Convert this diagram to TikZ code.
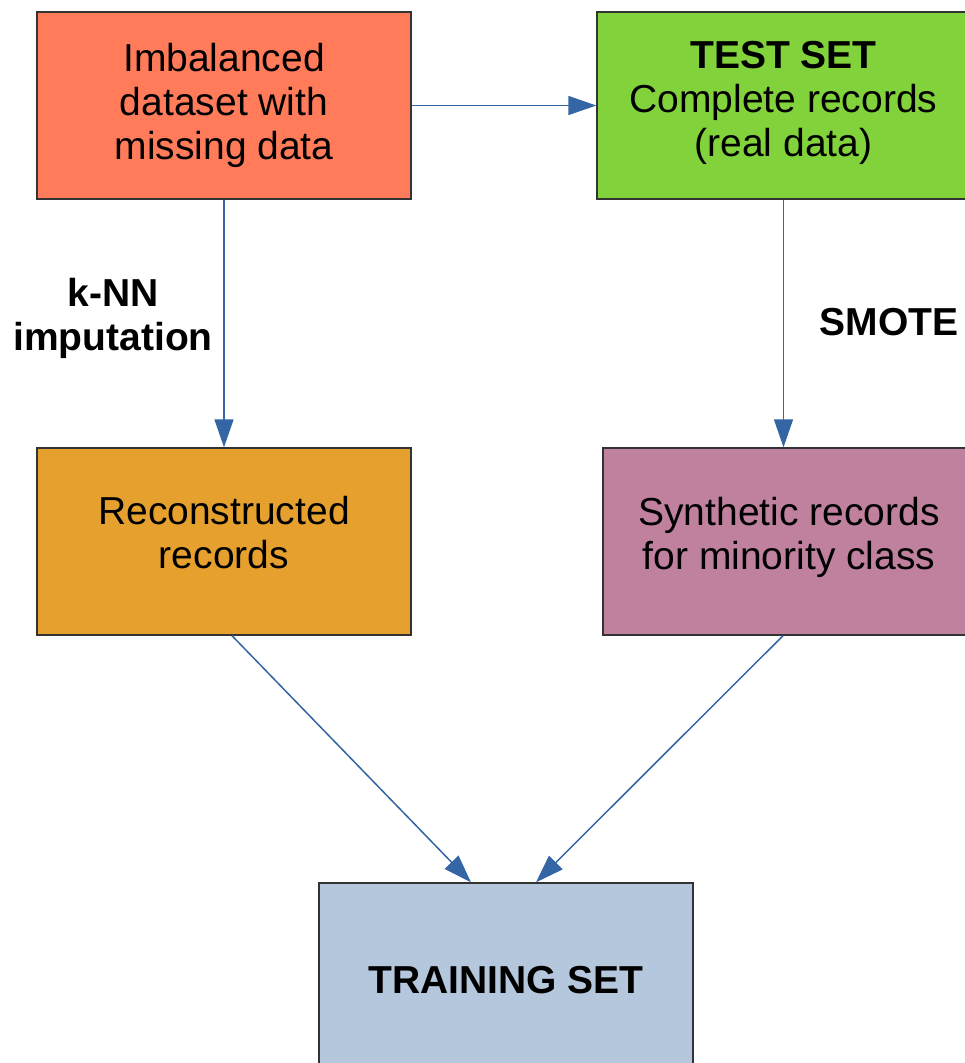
\documentclass[tikz,border=0pt]{standalone}
\usepackage{fontspec}
\setmainfont{Liberation Sans}
\usetikzlibrary{arrows.meta}
\definecolor{cCoral}{HTML}{FF7B5A}
\definecolor{cGreen}{HTML}{81D23B}
\definecolor{cOrange}{HTML}{E6A02E}
\definecolor{cMauve}{HTML}{BF819E}
\definecolor{cBlue}{HTML}{B4C7DC}
\definecolor{cArrow}{HTML}{3465A4}
\begin{document}
\begin{tikzpicture}[x=1pt,y=-1pt,
  boxnode/.style={draw=black!80,line width=1.4pt,minimum width=374pt,minimum height=187pt,align=center,inner sep=0pt,
    font=\fontsize{39}{44}\selectfont},
  lbl/.style={align=center,font=\fontsize{39}{44}\selectfont\bfseries},
  conn/.style={draw=cArrow,line width=1.5pt,-{Triangle[length=28pt,width=19pt]}}]
\useasboundingbox (0,0) rectangle (964,1063);
\node[boxnode,fill=cCoral] (a) at (224,105.5) {Imbalanced\\dataset with\\missing data};
\node[boxnode,fill=cGreen,minimum width=373pt] (b) at (783.5,105.5) {\textbf{TEST SET}\\Complete records\\(real data)\rule[-14pt]{0pt}{1pt}};
\node[boxnode,fill=cOrange] (c) at (224,541.5) {Reconstructed\\records\rule[-18pt]{0pt}{1pt}};
\node[boxnode,fill=cMauve,minimum width=372pt] (d) at (789,541.5) {Synthetic records\\for minority class\rule[-16pt]{0pt}{1pt}};
\node[boxnode,fill=cBlue,minimum height=194pt] (e) at (506,980) {\textbf{TRAINING SET}};
\node[lbl] (l1) at (113,318) {k-NN\\imputation};
\node[lbl] (l2) at (889,322) {SMOTE};
\coordinate (cs) at ([xshift=8pt]c.south);
\coordinate (ds) at ([xshift=-6pt]d.south);
\coordinate (e1) at ([xshift=-35pt]e.north);
\coordinate (e2) at ([xshift=30pt]e.north);
\draw[conn] (a.east) -- (b.west);
\draw[conn] (a.south) -- (c.north);
\draw[conn] (b.south) -- (b.south |- d.north);
\draw[conn] (cs) -- (e1);
\draw[conn] (ds) -- (e2);
\end{tikzpicture}
\end{document}
